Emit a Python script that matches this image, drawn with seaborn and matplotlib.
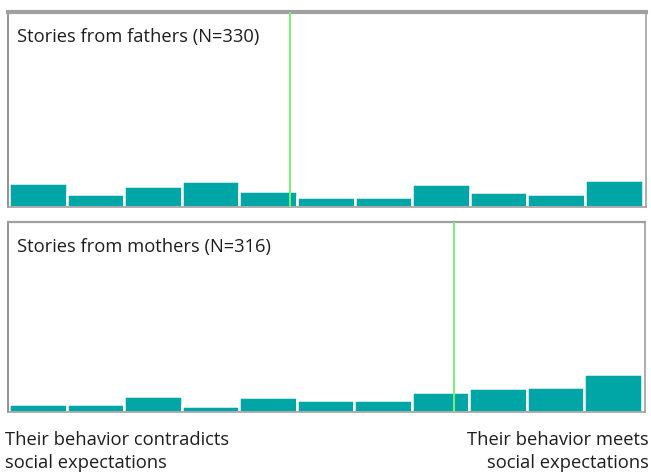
import matplotlib
matplotlib.use("Agg")
import matplotlib.pyplot as plt
import seaborn as sns
import pandas as pd

# Share of stories (%) in each of 11 scale bins, from "contradicts" (0) to "meets" (10)
bins = list(range(11))
fathers_pct = [12.3, 6.7, 10.8, 13.3, 8.2, 5.1, 5.1, 11.8, 7.7, 6.7, 13.8]
mothers_pct = [4.2, 4.2, 8.4, 3.2, 7.9, 6.1, 6.3, 10.5, 12.6, 12.9, 20.0]
panel_titles = ["Stories from fathers (N=330)", "Stories from mothers (N=316)"]
# Position of the reference line on the bin scale
marker_pos = [4.38, 7.24]
left_label = ["Their behavior contradicts", "social expectations"]
right_label = ["Their behavior meets", "social expectations"]

sns.set_theme(style="white")
plt.rcParams["font.family"] = ["Open Sans", "DejaVu Sans"]

bar_color = "#00A5A5"
frame_color = "#A0A0A0"
text_color = "#1E1E1E"
fs = 13.2

fig = plt.figure(figsize=(6.51, 4.74), dpi=100)
ax_top = fig.add_axes([0.0123, 0.5633, 0.9800, 0.4114])
ax_bot = fig.add_axes([0.0123, 0.1308, 0.9785, 0.4008])

for ax, vals, title, pos, top_lw in zip(
    [ax_top, ax_bot], [fathers_pct, mothers_pct], panel_titles, marker_pos, [3.0, 1.6]
):
    df = pd.DataFrame({"bin": bins, "pct": vals})
    sns.barplot(data=df, x="bin", y="pct", order=bins, color=bar_color,
                saturation=1, width=1.0, edgecolor="white", linewidth=1.8, ax=ax)
    ax.axvline(pos, color="#77EE77", lw=1.4, zorder=3)
    ax.set_xlim(-0.52, 10.56)
    ax.set_ylim(0, 100)
    ax.set_xticks([])
    ax.set_yticks([])
    ax.set_xlabel("")
    ax.set_ylabel("")
    for name, sp in ax.spines.items():
        sp.set_visible(True)
        sp.set_color(frame_color)
        sp.set_linewidth(1.2)
    ax.spines["top"].set_linewidth(top_lw)
    ax.spines["left"].set_color("#808080")
    ax.text(0.014, 0.87, title, transform=ax.transAxes, fontsize=fs,
            color=text_color, ha="left", va="center")

# Scale end labels under the panels
for i, y in enumerate([0.0717, 0.0232]):
    fig.text(0.007, y, left_label[i], ha="left", va="center", fontsize=fs,
             color=text_color)
    fig.text(0.996, y, right_label[i], ha="right", va="center", fontsize=fs,
             color=text_color)

fig.savefig("out.png", dpi=100, facecolor="white")
